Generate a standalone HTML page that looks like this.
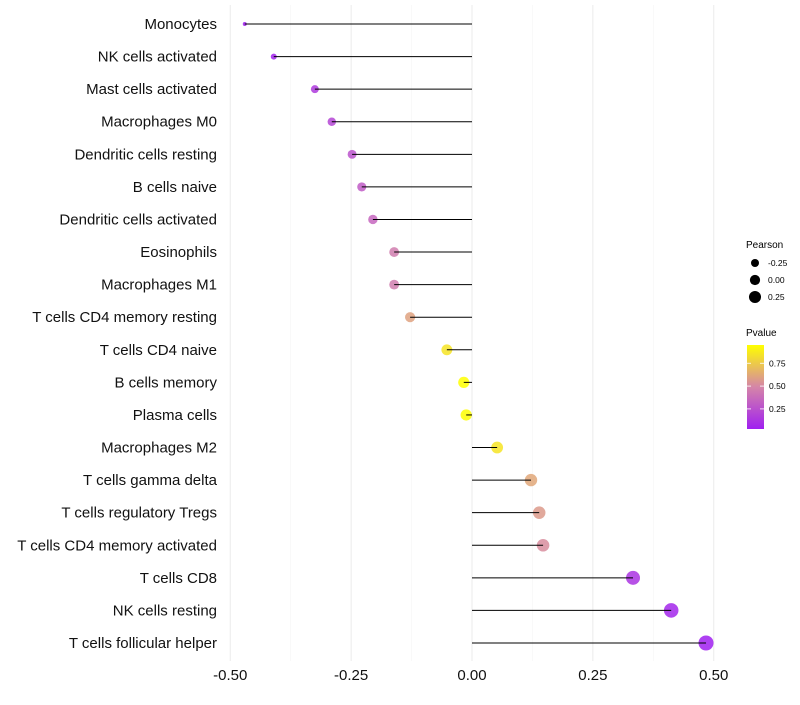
<!DOCTYPE html>
<html><head><meta charset="utf-8"><style>
body{margin:0;background:#fff;font-family:"Liberation Sans",sans-serif}
svg text{font-family:"Liberation Sans",sans-serif}
</style></head><body>
<svg id="chart" width="800" height="700" xmlns="http://www.w3.org/2000/svg">
<defs><linearGradient id="pg" x1="0" y1="1" x2="0" y2="0">
<stop offset="0" stop-color="#a020f0"/><stop offset="0.5" stop-color="#d585a8"/><stop offset="1" stop-color="#ffff00"/></linearGradient></defs>
<g id="grid"></g><g id="points"></g><g id="stems"></g><g id="ylab"></g><g id="xlab"></g>
<g>
<text x="746" y="248" font-size="10">Pearson</text>
<g id="sizeleg"></g>
<text x="746" y="336" font-size="10">Pvalue</text>
<rect x="747" y="345" width="17" height="84" fill="url(#pg)"/>
<g id="colleg"></g>
</g>
</svg>
<script>
const categories=["Monocytes","NK cells activated","Mast cells activated","Macrophages M0","Dendritic cells resting","B cells naive","Dendritic cells activated","Eosinophils","Macrophages M1","T cells CD4 memory resting","T cells CD4 naive","B cells memory","Plasma cells","Macrophages M2","T cells gamma delta","T cells regulatory  Tregs ","T cells CD4 memory activated","T cells CD8","NK cells resting","T cells follicular helper"];
const pearson=[-0.47,-0.41,-0.325,-0.29,-0.248,-0.228,-0.205,-0.161,-0.161,-0.128,-0.052,-0.017,-0.012,0.052,0.122,0.139,0.147,0.333,0.412,0.484];
const pvalue=[0.02,0.05,0.15,0.2,0.26,0.3,0.35,0.45,0.45,0.6,0.85,0.95,0.97,0.85,0.62,0.57,0.52,0.12,0.06,0.03];
const xTicks=[-0.5,-0.25,0,0.25,0.5];
const xTickLabels=["-0.50","-0.25","0.00","0.25","0.50"];
const sizeLegVals=[-0.25,0,0.25];
const sizeLegLabels=["-0.25","0.00","0.25"];
const colLegVals=[0.25,0.5,0.75];
const colLegLabels=["0.25","0.50","0.75"];
const NS="http://www.w3.org/2000/svg";
const X=v=>472+v*483.5;
const Y=i=>24+i*(643-24)/19;
const R=v=>Math.sqrt(v>-0.325?16+50*(v+0.325):Math.max(3,16-83*(-0.325-v)));
const P=p=>429-(p-0.03)*(84/0.92);
function lerp(a,b,t){return a.map((x,i)=>Math.round(x+(b[i]-x)*t));}
function col(p){const t=Math.max(0,Math.min(1,(p-0.03)/0.92));const c0=[160,32,240],c1=[213,133,168],c2=[255,255,0];
const c=t<0.5?lerp(c0,c1,t*2):lerp(c1,c2,(t-0.5)*2);return `rgb(${c[0]},${c[1]},${c[2]})`;}
function mk(tag,attrs,parent,txt){const e=document.createElementNS(NS,tag);for(const k in attrs)e.setAttribute(k,attrs[k]);if(txt!==undefined)e.textContent=txt;document.getElementById(parent).appendChild(e);return e;}
for(let k=-4;k<=4;k++){const v=k*0.125;const major=k%2===0;
const g=mk('line',{x1:X(v),x2:X(v),y1:5,y2:661,stroke:major?'#ebebeb':'#f5f5f5','stroke-width':major?1:0.6},'grid');

}
categories.forEach((c,i)=>{
const p=mk('circle',{cx:X(pearson[i]),cy:Y(i),r:R(pearson[i]),fill:col(pvalue[i]),'fill-opacity':0.85},'points');


const l=mk('line',{x1:X(0),x2:X(pearson[i]),y1:Y(i),y2:Y(i),stroke:'#000','stroke-width':1},'stems');


const t=mk('text',{x:217,y:Y(i)+5,'text-anchor':'end','font-size':15,fill:'#111'},'ylab',c);


});
xTicks.forEach((v,i)=>{const t=mk('text',{x:X(v),y:680,'text-anchor':'middle','font-size':15,fill:'#111'},'xlab',xTickLabels[i]);

});
sizeLegVals.forEach((v,i)=>{const y=263+i*17;
const c=mk('circle',{cx:755,cy:y,r:R(v)*0.9,fill:'#000'},'sizeleg');


const t=mk('text',{x:768,y:y+3,'font-size':8.5},'sizeleg',sizeLegLabels[i]);

});
colLegVals.forEach((v,i)=>{const y=P(v);
mk('line',{x1:747,x2:751,y1:y,y2:y,stroke:'#fff','stroke-width':0.8},'colleg');
mk('line',{x1:760,x2:764,y1:y,y2:y,stroke:'#fff','stroke-width':0.8},'colleg');
const t=mk('text',{x:769,y:y+3,'font-size':8.5},'colleg',colLegLabels[i]);

});
</script>
</body></html>
